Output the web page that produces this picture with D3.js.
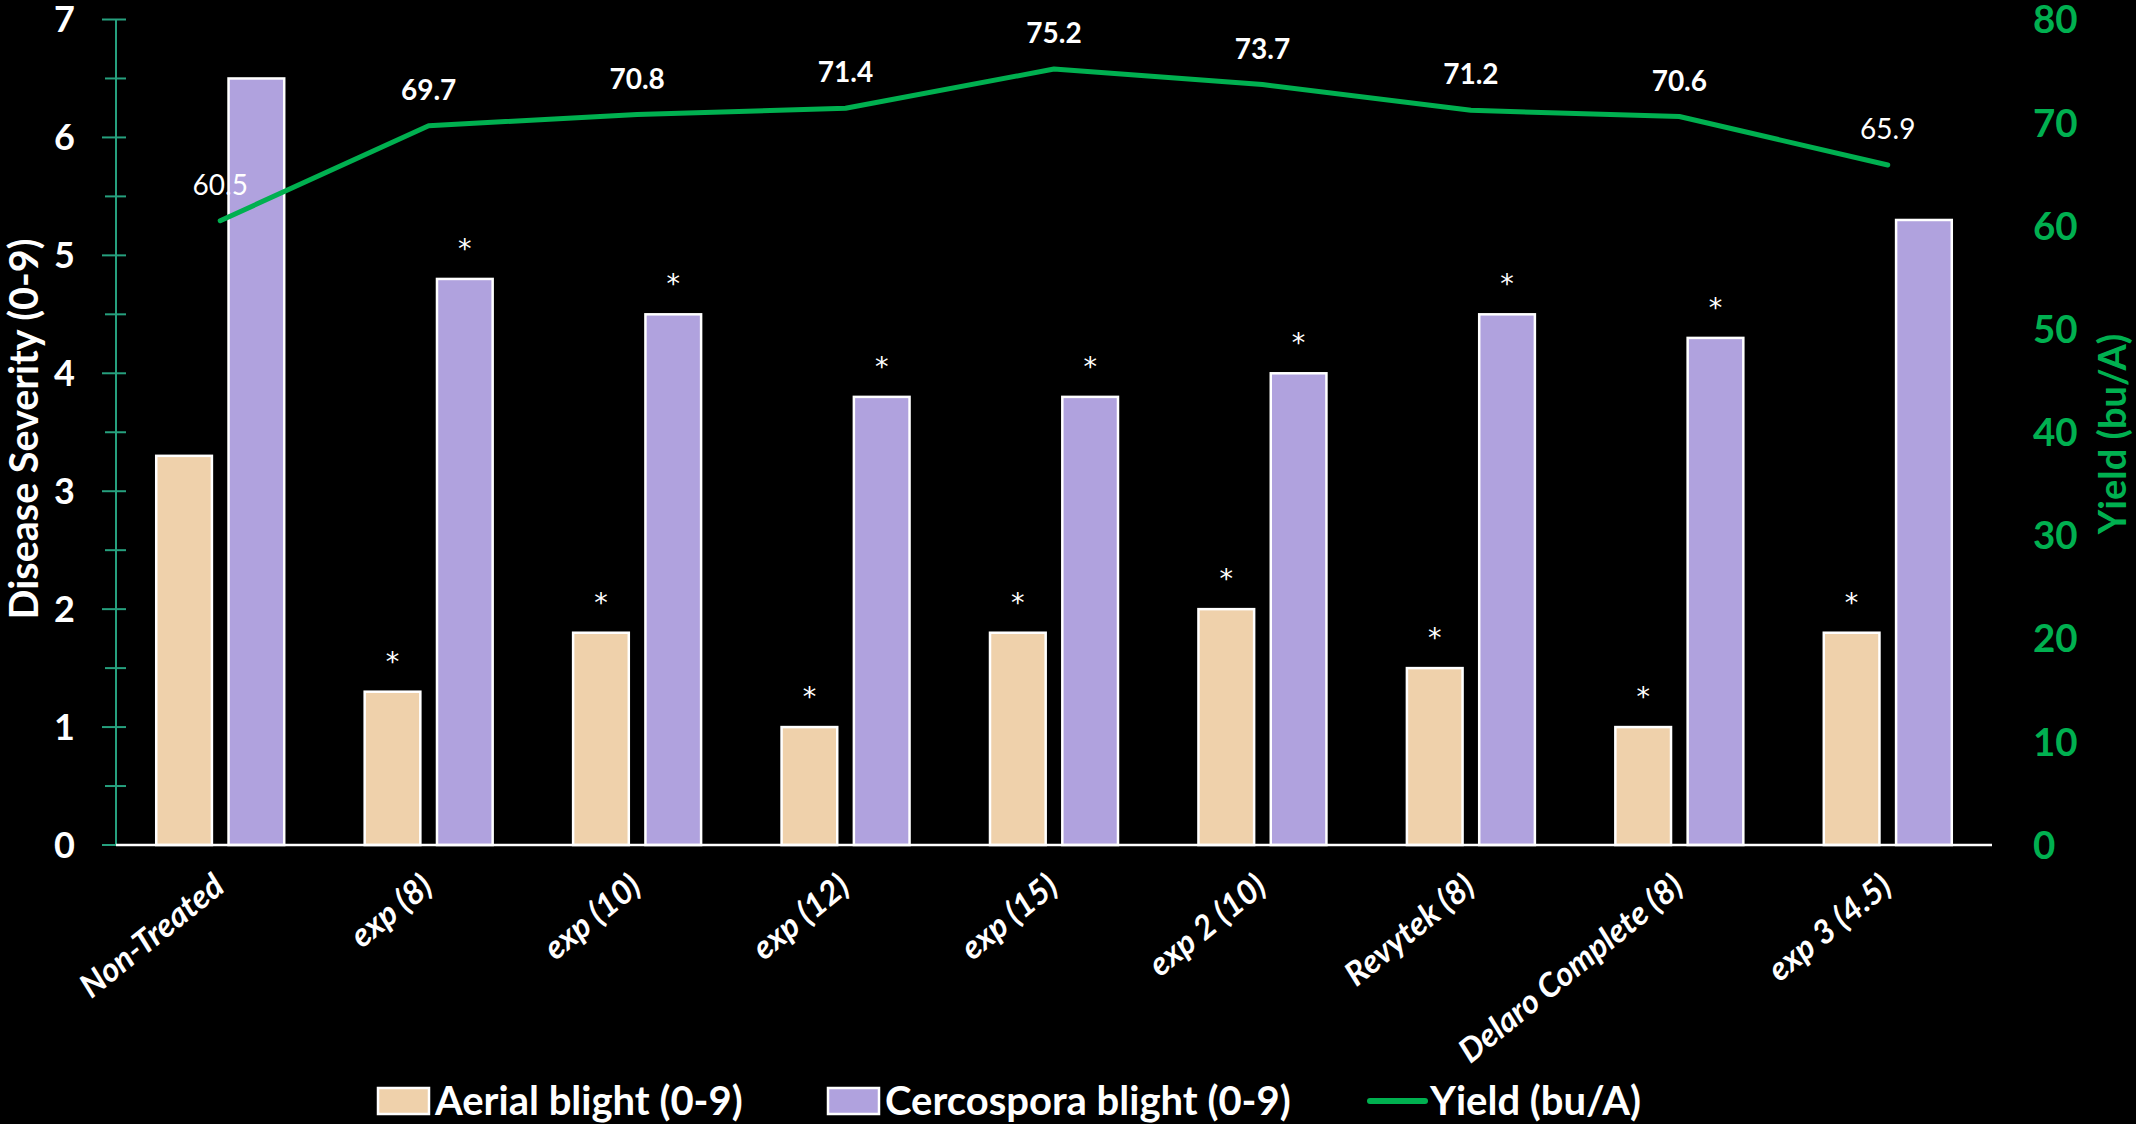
<!DOCTYPE html>
<html>
<head>
<meta charset="utf-8">
<script src="https://cdn.jsdelivr.net/npm/d3@7"></script>
<style>
  html, body { margin: 0; background: #000; }
  svg { display: block; }
  text { font-family: Lato, "Open Sans", "DejaVu Sans", sans-serif; }
</style>
</head>
<body>
<svg id="chart" width="2136" height="1124"></svg>
<script>
// ---- data ----
const categories = ["Non-Treated", "exp (8)", "exp (10)", "exp (12)", "exp (15)",
                    "exp 2 (10)", "Revytek (8)", "Delaro Complete (8)", "exp 3 (4.5)"];
const aerialBlight     = [3.3, 1.3, 1.8, 1.0, 1.8, 2.0, 1.5, 1.0, 1.8];
const cercosporaBlight = [6.5, 4.8, 4.5, 3.8, 3.8, 4.0, 4.5, 4.3, 5.3];
const yieldBuA         = [60.5, 69.7, 70.8, 71.4, 75.2, 73.7, 71.2, 70.6, 65.9];
const aerialMarks      = ["", "*", "*", "*", "*", "*", "*", "*", "*"];
const cercosporaMarks  = ["", "*", "*", "*", "*", "*", "*", "*", ""];
const severityTicks    = [0, 1, 2, 3, 4, 5, 6, 7];
const severityMinor    = [0.5, 1.5, 2.5, 3.5, 4.5, 5.5, 6.5];
const yieldTicks       = [0, 10, 20, 30, 40, 50, 60, 70, 80];
const seriesNames      = ["Aerial blight (0-9)", "Cercospora blight (0-9)", "Yield (bu/A)"];

// ---- styling ----
const AERIAL = "#EFD1AB", CERCO = "#B0A2DE", GREEN = "#00B050", AXIS = "#26A07E";
const plot = { left: 116, right: 1992, top: 19.5, bottom: 845 };

const svg = d3.select("#chart");
svg.append("rect").attr("width", 2136).attr("height", 1124).attr("fill", "#000");

// ---- scales ----
const x0 = d3.scaleBand().domain(categories)
  .range([plot.left, plot.right]).paddingInner(0.386).paddingOuter(0.193);
const x1 = d3.scaleBand().domain(["aerial", "cerco"])
  .range([0, x0.bandwidth()]).paddingInner(0.23);
const ySev = d3.scaleLinear().domain([0, 7]).range([plot.bottom, plot.top]);
const yYield = d3.scaleLinear().domain([0, 80]).range([plot.bottom, plot.top]);
const cx = c => x0(c) + x0.bandwidth() / 2;

// ---- left axis (disease severity) ----
const leftAxis = svg.append("g");
leftAxis.append("line")
  .attr("x1", plot.left).attr("x2", plot.left)
  .attr("y1", ySev(7)).attr("y2", ySev(0))
  .attr("stroke", AXIS).attr("stroke-width", 2);
leftAxis.selectAll(".major").data(severityTicks).join("line")
  .attr("x1", 102).attr("x2", 126)
  .attr("y1", d => ySev(d)).attr("y2", d => ySev(d))
  .attr("stroke", AXIS).attr("stroke-width", 2);
leftAxis.selectAll(".minor").data(severityMinor).join("line")
  .attr("x1", 105).attr("x2", 126)
  .attr("y1", d => ySev(d)).attr("y2", d => ySev(d))
  .attr("stroke", AXIS).attr("stroke-width", 2);
leftAxis.selectAll("text").data(severityTicks).join("text")
  .attr("x", 75).attr("y", d => ySev(d))
  .attr("dy", "0.36em")
  .attr("text-anchor", "end")
  .attr("fill", "#fff").attr("font-weight", 700).attr("font-size", 36)
  .text(d => d);

svg.append("text")
  .attr("transform", `translate(38,429) rotate(-90)`)
  .attr("text-anchor", "middle")
  .attr("fill", "#fff").attr("font-weight", 700).attr("font-size", 39.5)
  .text("Disease Severity (0-9)");

// ---- right axis (yield) ----
svg.append("g").selectAll("text").data(yieldTicks).join("text")
  .attr("x", 2033).attr("y", d => yYield(d))
  .attr("dy", "0.36em")
  .attr("fill", GREEN).attr("font-weight", 700).attr("font-size", 38.5)
  .text(d => d);

svg.append("text")
  .attr("transform", `translate(2126,434) rotate(-90)`)
  .attr("text-anchor", "middle")
  .attr("fill", GREEN).attr("font-weight", 700).attr("font-size", 38)
  .text("Yield (bu/A)");

// ---- bars ----
const rows = categories.map((c, i) => ({
  c, aerial: aerialBlight[i], cerco: cercosporaBlight[i],
  aerialMark: aerialMarks[i], cercoMark: cercosporaMarks[i], yld: yieldBuA[i], i
}));

const barG = svg.append("g");
[["aerial", AERIAL, "aerialMark"], ["cerco", CERCO, "cercoMark"]].forEach(([key, color, markKey]) => {
  barG.selectAll(`.bar-${key}`).data(rows).join("rect")
    .attr("x", d => x0(d.c) + x1(key))
    .attr("width", x1.bandwidth())
    .attr("y", d => ySev(d[key]))
    .attr("height", d => ySev(0) - ySev(d[key]))
    .attr("fill", color).attr("stroke", "#fff").attr("stroke-width", 2.5);
  // significance markers above the bars
  barG.selectAll(`.mark-${key}`).data(rows.filter(d => d[markKey])).join("text")
    .attr("x", d => x0(d.c) + x1(key) + x1.bandwidth() / 2)
    .attr("y", d => ySev(d[key]) - 21)
    .attr("text-anchor", "middle")
    .attr("fill", "#fff").attr("font-size", 27)
    .style("font-family", "'DejaVu Sans', sans-serif")
    .text(d => d[markKey]);
});

// baseline
svg.append("line")
  .attr("x1", plot.left).attr("x2", plot.right)
  .attr("y1", ySev(0)).attr("y2", ySev(0))
  .attr("stroke", "#fff").attr("stroke-width", 2.5);

// ---- yield line ----
svg.append("path").datum(rows)
  .attr("d", d3.line().x(d => cx(d.c)).y(d => yYield(d.yld)))
  .attr("fill", "none").attr("stroke", GREEN).attr("stroke-width", 5)
  .attr("stroke-linecap", "round").attr("stroke-linejoin", "round");

const plainLabels = new Set([0, categories.length - 1]);
svg.append("g").selectAll("text").data(rows).join("text")
  .attr("x", d => cx(d.c))
  .attr("y", d => yYield(d.yld) - 36)
  .attr("dy", "0.36em")
  .attr("text-anchor", "middle")
  .attr("fill", "#fff").attr("font-size", 28)
  .attr("font-weight", d => plainLabels.has(d.i) ? 400 : 700)
  .text(d => d.yld.toFixed(1));

// ---- category labels ----
svg.append("g").selectAll("text").data(categories).join("text")
  .attr("transform", c => `translate(${cx(c) + 6},890) rotate(-39)`)
  .attr("text-anchor", "end")
  .attr("fill", "#fff").attr("font-weight", 700).attr("font-style", "italic")
  .attr("font-size", 33)
  .text(c => c);

// ---- legend ----
const legendY = 1101;
const legend = svg.append("g");
const legendItems = [
  { name: seriesNames[0], type: "box", color: AERIAL, x: 378 },
  { name: seriesNames[1], type: "box", color: CERCO, x: 828 },
  { name: seriesNames[2], type: "line", color: GREEN, x: 1370 }
];
legendItems.forEach(it => {
  if (it.type === "box") {
    legend.append("rect")
      .attr("x", it.x).attr("y", legendY - 13).attr("width", 51).attr("height", 26)
      .attr("fill", it.color).attr("stroke", "#fff").attr("stroke-width", 2.5);
  } else {
    legend.append("line")
      .attr("x1", it.x).attr("x2", it.x + 55)
      .attr("y1", legendY).attr("y2", legendY)
      .attr("stroke", it.color).attr("stroke-width", 6).attr("stroke-linecap", "round");
  }
  legend.append("text")
    .attr("x", it.x + (it.type === "box" ? 57 : 60)).attr("y", legendY)
    .attr("dy", "0.36em")
    .attr("fill", "#fff").attr("font-weight", 700).attr("font-size", 40)
    .text(it.name);
});
</script>
</body>
</html>
